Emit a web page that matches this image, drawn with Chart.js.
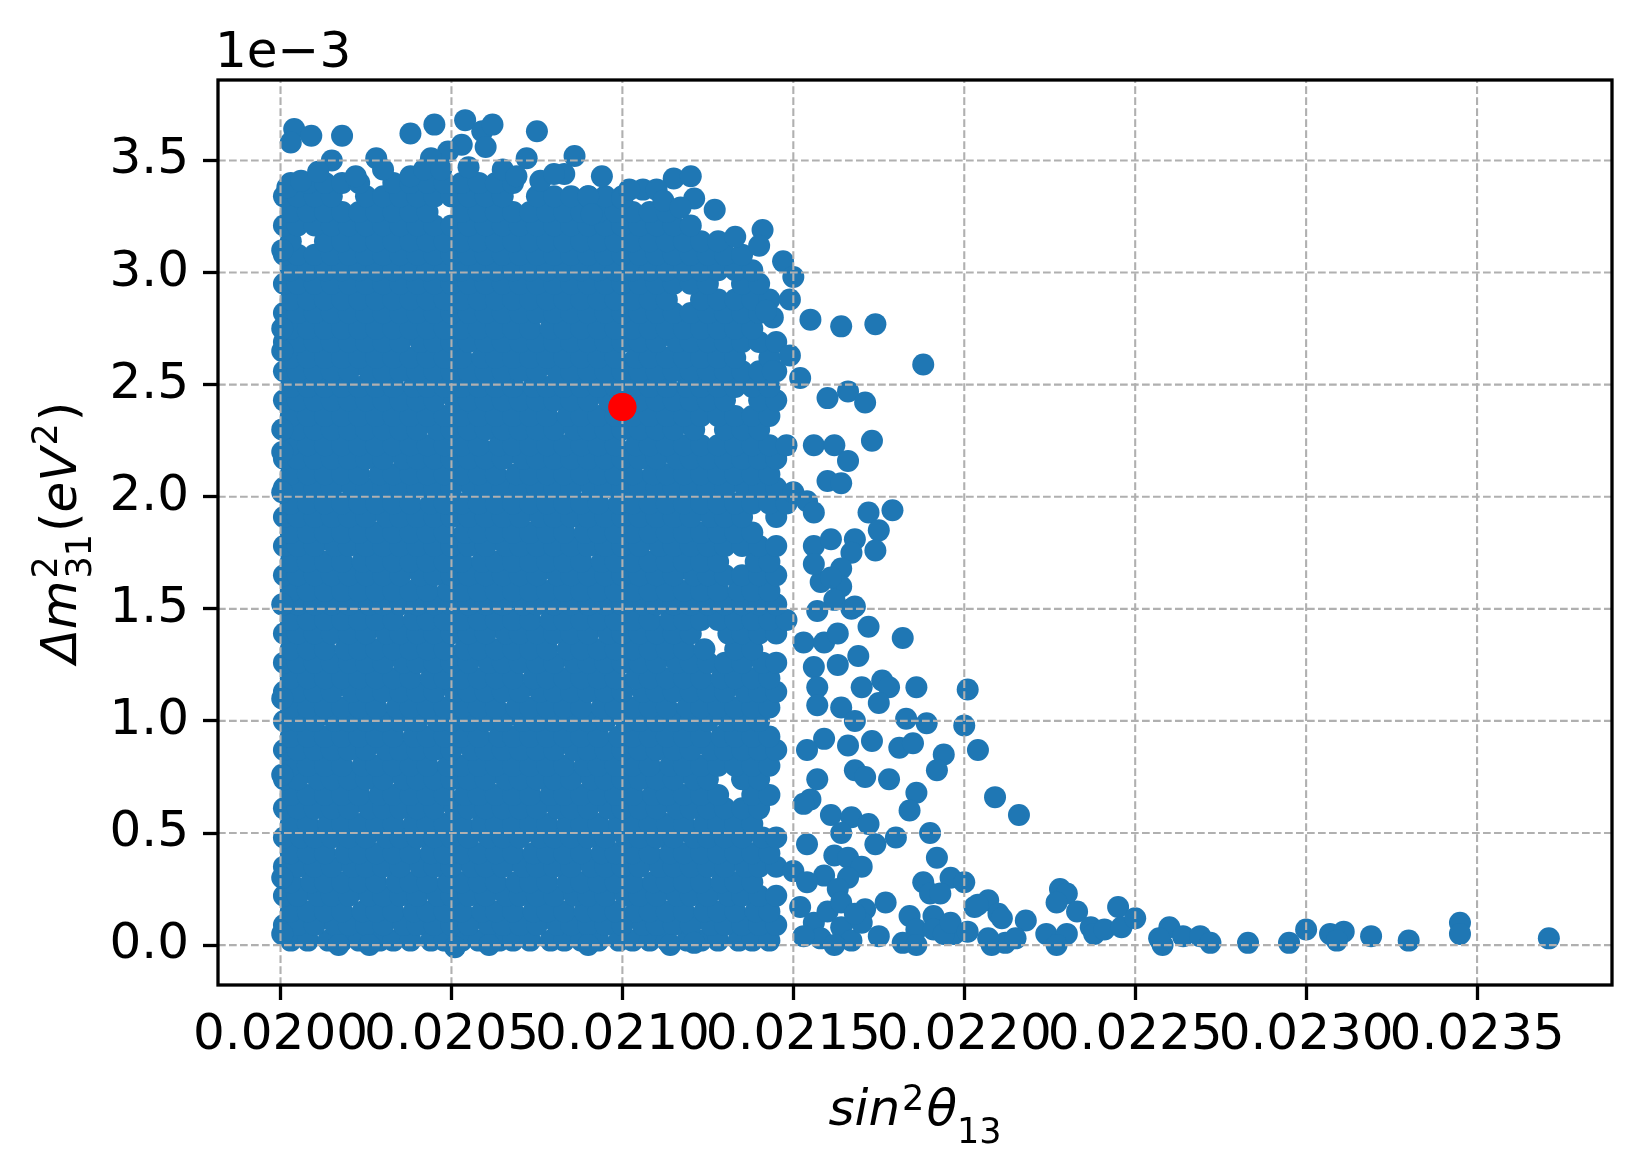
<!DOCTYPE html>
<html><head><meta charset="utf-8">
<script src="https://cdn.jsdelivr.net/npm/chart.js@4.4.1/dist/chart.umd.min.js"></script>
<style>html,body{margin:0;padding:0;background:#fff}canvas{display:block}</style>
</head><body>
<canvas id="c" width="1643" height="1167"></canvas>
<script>
// x value = X_BASE + u * X_UNIT  (u), y in units of 1e-3 eV^2
const X_BASE = 0.0200, X_UNIT = 1e-5;
const xTicks = [0.0200, 0.0205, 0.0210, 0.0215, 0.0220, 0.0225, 0.0230, 0.0235];
const xTickLabels = ["0.0200","0.0205","0.0210","0.0215","0.0220","0.0225","0.0230","0.0235"];
const yTicks = [0.0, 0.5, 1.0, 1.5, 2.0, 2.5, 3.0, 3.5];
const yTickLabels = ["0.0","0.5","1.0","1.5","2.0","2.5","3.0","3.5"];
const X_MIN = 0.0198171, X_MAX = 0.0238947, Y_MIN = -0.178, Y_MAX = 3.859;

// dense core of the cloud: [y, [u, u, ...]]
const denseRows = [
[0.02,[3,8,14,18,23,29,33,38,44,48,53,58,64,68,73,79,83,88,93,99,103,108,113,119,123,128,134,138,143]],
[0.09,[1,5,10,16,20,25,30,36,40,45,50,55,61,65,70,75,81,85,90,95,100,106,110,115,120,126,130,135,140,145]],
[0.15,[3,8,13,18,24,28,33,39,43,48,53,59,63,68,74,78,83,89,93,98,104,108,113,118,124,128,133,139,143]],
[0.22,[1,5,11,15,20,26,30,35,40,46,50,55,60,66,70,75,80,86,90,95,101,105,110,116,120,125,131,135,140,145]],
[0.28,[3,9,13,18,23,28,34,38,43,49,53,58,63,69,73,78,84,88,93,98,103,109,113,118,123,129,133,138]],
[0.35,[1,5,10,15,21,25,30,35,41,45,50,56,60,65,71,75,80,85,91,95,100,105,111,115,120,125,130,136,140,145]],
[0.41,[3,8,13,19,23,28,33,38,44,48,53,58,63,68,74,78,83,88,94,98,103,108,114,118,123,128,133,138,143]],
[0.48,[1,6,10,15,20,25,31,35,40,45,50,55,61,65,70,76,80,85,90,95,101,105,110,115,121,125,130,135,141,145]],
[0.54,[3,8,14,18,23,28,33,39,43,48,53,59,63,68,73,78,84,88,93,99,103,108,113,118,124,128,133,138]],
[0.61,[1,5,10,15,20,26,30,35,40,45,51,55,60,65,70,75,81,85,90,96,100,105,110,116,120,125,130,135,140]],
[0.67,[3,8,13,18,23,29,33,38,43,48,54,58,63,68,73,79,83,88,93,98,103,109,113,118,123,128,138,143]],
[0.74,[1,5,11,15,20,25,30,36,40,45,50,55,60,66,70,75,80,85,91,95,100,105,110,115,121,125,135,140]],
[0.80,[3,8,13,18,24,28,33,38,43,49,53,58,63,68,73,78,83,89,93,98,103,108,114,118,123,128,133,138,143]],
[0.87,[1,5,10,15,20,25,31,35,40,45,50,56,60,65,70,75,80,86,90,95,100,105,110,115,120,126,130,135,140,145]],
[0.93,[3,8,13,18,23,28,33,39,43,48,53,58,64,68,73,78,83,88,93,99,103,108,113,118,123,129,133,138,143]],
[1.00,[1,5,10,16,20,25,30,35,40,46,50,55,60,65,71,75,80,85,90,95,101,105,110,115,120,125,131,135,140]],
[1.06,[3,8,13,18,23,28,34,38,43,48,53,58,63,69,73,78,83,88,94,98,103,108,113,119,123,128,133,138,143]],
[1.13,[1,5,10,15,21,25,30,35,40,45,51,55,60,65,70,76,80,85,90,95,100,106,110,115,120,125,130,136,140,145]],
[1.19,[3,8,13,18,23,28,33,38,44,48,53,58,63,68,74,78,83,88,93,98,104,108,113,118,123,129,133,138,143]],
[1.26,[1,5,10,15,20,25,30,36,40,45,50,55,61,65,70,75,80,86,90,95,100,105,110,116,120,125,130,135,141,145]],
[1.32,[3,8,13,19,23,28,33,38,43,48,54,58,63,68,73,78,84,88,93,98,103,108,113,118,124,133,138]],
[1.39,[1,5,10,15,20,25,31,35,40,45,50,55,60,66,70,75,80,85,90,96,100,105,110,115,120,131,135,140,145]],
[1.45,[3,8,13,18,23,28,33,39,43,48,53,58,63,68,73,79,83,88,93,98,103,108,114,118,123,128,133,138,143,148]],
[1.52,[1,5,10,15,20,26,30,35,40,45,50,55,60,65,71,75,80,85,90,95,100,106,110,115,120,125,130,135,140,145]],
[1.58,[3,8,13,18,23,28,33,38,43,49,53,58,63,68,73,78,83,88,93,98,103,108,113,118,123,128,134,138,143]],
[1.65,[1,5,10,15,20,25,30,35,41,45,50,55,60,65,70,75,81,85,90,95,100,105,110,115,121,125,130,135,140,145]],
[1.71,[3,8,13,18,24,28,33,38,43,48,53,59,63,68,73,78,83,88,94,98,103,108,113,118,123,128,139,143]],
[1.78,[1,5,10,16,20,25,30,35,40,45,50,55,60,66,70,75,80,85,90,95,100,105,111,115,120,125,130,135,140,145]],
[1.84,[3,8,13,18,23,28,33,38,43,48,54,58,63,68,73,78,83,89,93,98,103,108,113,118,123,128,133,138]],
[1.91,[1,5,10,15,20,25,31,35,40,45,50,55,60,65,70,76,80,85,90,95,100,105,110,115,120,126,130,135,145]],
[1.97,[3,8,13,18,23,28,33,38,44,48,53,58,63,68,73,78,83,88,93,99,103,108,113,118,123,128,133,138,143,148]],
[2.04,[1,5,10,15,21,25,30,35,40,45,50,56,60,65,70,75,80,85,91,95,100,105,110,115,120,125,130,136,140,145]],
[2.10,[3,8,13,18,23,29,33,38,43,48,53,58,63,69,73,78,83,88,93,98,103,109,113,118,123,128,133,138,143]],
[2.17,[1,5,10,15,20,25,30,36,40,45,50,55,60,65,71,75,80,85,90,95,100,105,110,116,120,125,130,135,140,145]],
[2.23,[3,8,13,18,23,28,33,38,43,48,53,58,64,68,73,78,83,88,93,98,104,108,113,118,123,128,133,138,143,148]],
[2.30,[1,5,10,15,20,25,30,35,40,46,50,55,60,65,70,75,80,86,90,95,100,105,110,115,121,130,135,140]],
[2.36,[3,8,13,18,23,28,33,38,43,48,53,58,63,68,73,78,84,88,93,98,103,108,113,118,123,128,133,138,143]],
[2.43,[1,5,10,15,20,25,30,35,40,45,51,55,60,65,70,75,80,85,90,96,100,105,110,115,120,125,130,140,145]],
[2.49,[3,8,13,18,23,28,33,39,43,48,53,58,63,68,74,78,83,88,93,98,103,108,113,119,123,128,133,138,143]],
[2.56,[1,5,10,15,20,26,30,35,40,45,50,55,60,65,70,75,81,85,90,95,100,105,110,115,120,125,130,135,140,145]],
[2.62,[3,8,13,18,23,28,33,38,43,48,53,59,63,68,73,78,83,88,93,98,104,108,113,118,123,128,133,143]],
[2.69,[1,5,10,15,20,25,30,35,41,45,50,55,60,65,70,75,80,85,90,95,100,105,110,116,120,125,130,135,140,145]],
[2.75,[3,8,13,18,23,28,33,38,43,48,53,58,63,68,73,79,83,88,93,98,103,108,113,118,123,128,133,138]],
[2.82,[1,5,10,15,20,25,30,35,40,45,50,55,60,65,70,75,80,85,90,95,100,105,110,115,120,125,130,135,140]],
[2.88,[3,8,13,18,23,28,33,38,43,48,53,58,63,68,73,78,83,88,93,98,103,108,113,123,128,133,138,143]],
[2.95,[1,5,10,15,20,25,30,35,40,45,50,55,60,65,70,75,80,85,90,95,100,105,110,115,120,125,135,140]],
[3.01,[3,8,13,18,23,28,33,38,43,48,53,58,63,68,73,78,83,88,93,98,103,108,113,118,123,128,133,138]],
[3.08,[1,5,10,15,20,25,30,35,40,45,50,55,60,65,70,75,80,85,90,95,100,105,110,115,120,125,130,135]],
[3.14,[3,13,18,23,28,33,38,43,48,53,58,63,68,73,78,83,88,93,98,103,108,113,118,123,128]],
[3.21,[1,5,10,15,20,25,30,35,40,45,50,55,60,65,70,75,80,85,90,95,100,105,110,115,120]],
[3.27,[3,8,13,18,23,28,33,38,43,53,58,63,68,73,78,83,88,93,98,103,108,113]],
[3.34,[1,5,10,15,25,30,35,40,45,50,55,60,65,75,80,85,90,95,100]],
[3.40,[3,8,13,18,23,33,38,43,48,53,58,63,68]]
];

// scattered points around the core: [u, y]
const sparsePoints = [
[4,3.64],[3,3.58],[9,3.61],[18,3.61],[38,3.62],[45,3.66],[54,3.68],[59,3.63],[62,3.66],[75,3.63],
[53,3.57],[60,3.56],[49,3.54],[44,3.51],[28,3.51],[15,3.5],[72,3.51],[86,3.52],[55,3.47],[94,3.43],
[115,3.42],[120,3.43],[121,3.33],[127,3.28],[65,3.46],[69,3.43],[83,3.44],[106,3.37],[110,3.37],[100,3.33],
[133,3.16],[141,3.19],[140,3.12],[147,3.05],[150,2.98],[155,2.79],[164,2.76],[174,2.77],
[2,3.38],[6,3.41],[11,3.45],[22,3.43],[30,3.46],[38,3.43],[42,3.46],[47,3.46],[76,3.41],[90,3.34],
[102,3.37],[112,3.32],[117,3.29],[91,3.26],[80,3.44],
[149,2.88],[144,2.8],[142,2.83],[149,2.63],[188,2.59],[152,2.53],[144,2.56],[160,2.44],[166,2.47],[171,2.42],
[173,2.25],[156,2.23],[162,2.23],[166,2.16],[160,2.07],[164,2.06],[150,2.02],[154,1.98],[156,1.93],[172,1.93],
[179,1.94],[175,1.85],[174,1.76],[156,1.78],[161,1.81],[168,1.81],[167,1.75],[164,1.68],[164,1.6],[158,1.62],
[162,1.54],[157,1.49],[167,1.5],[172,1.42],[182,1.37],[156,1.24],[163,1.25],[169,1.29],[157,1.15],[157,1.07],
[164,1.06],[168,1.0],[170,1.15],[176,1.18],[178,1.15],[175,1.08],[186,1.15],[201,1.14],[183,1.01],[189,0.99],
[200,0.98],[204,0.87],[159,0.92],[166,0.89],[173,0.91],[181,0.88],[185,0.9],[168,0.78],[171,0.75],[178,0.74],
[194,0.85],[192,0.78],[186,0.68],[184,0.6],[209,0.66],[216,0.58],[161,0.58],[155,0.65],[167,0.57],[172,0.54],
[164,0.5],[174,0.45],[180,0.48],[190,0.5],[192,0.39],[162,0.4],[166,0.39],[170,0.35],[166,0.3],[159,0.31],
[163,0.25],[188,0.28],[190,0.23],[196,0.3],[200,0.28],[193,0.23],[177,0.19],[171,0.16],[175,0.04],[184,0.13],
[186,0.07],[182,0.01],[191,0.13],[203,0.17],[207,0.2],[210,0.14],[197,0.05],[208,0.0],[212,0.01],[218,0.11],
[224,0.05],[230,0.05],[227,0.0],[153,1.35],[159,1.35],[163,1.39],[156,1.7],[161,1.64],[168,1.51],[154,0.87],
[157,0.74],[153,0.63],[154,0.45],[150,0.33],[154,0.28],[152,0.17],[156,0.1],[160,0.15],[158,0.03],[164,0.08],
[167,0.02],[170,0.1],[153,0.04],[162,0.0],[164,0.19],[168,0.14],[191,0.07],[186,0.0],[194,0.05],[196,0.1],
[204,0.18],[201,0.06],[207,0.03],[211,0.12],[215,0.03],
[228,0.25],[230,0.23],[227,0.19],[233,0.15],[237,0.08],[238,0.05],[241,0.07],[245,0.17],[246,0.08],[250,0.12],
[258,0.0],[260,0.08],[264,0.04],[257,0.03],[269,0.04],[272,0.01],[283,0.01],[295,0.01],[300,0.07],[307,0.05],
[311,0.06],[309,0.02],[319,0.04],[330,0.02],[345,0.1],[345,0.05],[371,0.03],
[0.5,3.1],[0.5,2.75],[0.5,2.65],[0.5,2.3],[0.5,2.2],[0.5,2.02],[0.5,1.52],[0.5,1.1],[0.5,0.76],[0.5,0.3],[0.5,0.05],
[17,0.0],[26,0.0],[51,-0.01],[61,0.0],[90,0.0],[114,0.0],[121,0.01]
];

// highlighted point (red): [x, y(1e-3)]
const bestFit = [0.0210, 2.40];

const toX = u => X_BASE + u * X_UNIT;
const bluePts = [];
denseRows.forEach(([y, us]) => us.forEach(u => bluePts.push({x: toX(u), y})));
sparsePoints.forEach(([u, y]) => bluePts.push({x: toX(u), y}));

const FONT = '"DejaVu Sans", "Liberation Sans", sans-serif';
function fnt(it, size) { return (it ? 'italic ' : '') + size + 'px ' + FONT; }

function mathLayout(ctx, items, size) {
  const small = size * 0.7;
  let w = 0;
  const out = items.map(o => {
    let iw;
    if (o.stack) {
      ctx.font = fnt(false, small);
      iw = Math.max(ctx.measureText(o.stack[0]).width, ctx.measureText(o.stack[1]).width);
    } else {
      ctx.font = fnt(o.it, (o.sup || o.sub) ? small : size);
      iw = ctx.measureText(o.t).width;
    }
    const r = {o, x: w, w: iw};
    w += iw + (o.gap || 0);
    return r;
  });
  return {out, w};
}
function drawMath(ctx, items, cx, by, size, supUp, subDn) {
  const small = size * 0.7;
  const L = mathLayout(ctx, items, size);
  const x0 = cx - L.w / 2;
  ctx.fillStyle = '#000';
  ctx.textBaseline = 'alphabetic';
  ctx.textAlign = 'left';
  L.out.forEach(r => {
    const o = r.o;
    if (o.stack) {
      ctx.font = fnt(false, small);
      ctx.fillText(o.stack[0], x0 + r.x, by - supUp * size);
      ctx.fillText(o.stack[1], x0 + r.x, by + subDn * size);
    } else if (o.sup) {
      ctx.font = fnt(false, small);
      ctx.fillText(o.t, x0 + r.x, by - supUp * size);
    } else if (o.sub) {
      ctx.font = fnt(false, small);
      ctx.fillText(o.t, x0 + r.x, by + subDn * size);
    } else {
      ctx.font = fnt(o.it, size);
      ctx.fillText(o.t, x0 + r.x, by);
    }
  });
}

const xTitle = [{t:'sin', it:true, gap:2}, {t:'2', sup:true, gap:2}, {t:'θ', it:true}, {t:'13', sub:true}];
const yTitle = [{t:'Δ', it:true}, {t:'m', it:true, gap:2}, {stack:['2','31'], gap:2}, {t:'(', it:false}, {t:'eV', it:true, gap:2}, {t:'2', sup:true, gap:2}, {t:')', it:false}];

const decorPlugin = {
  id: 'decor',
  afterDatasetsDraw(chart) {
    const {ctx, chartArea: a, scales} = chart;
    // dashed grid above the blue cloud
    ctx.save();
    ctx.globalCompositeOperation = 'source-over';
    ctx.globalAlpha = 1;
    ctx.strokeStyle = '#b0b0b0';
    ctx.lineWidth = 2.1;
    ctx.setLineDash([7.7, 3.3]);
    xTicks.forEach(v => {
      const px = scales.x.getPixelForValue(v);
      ctx.beginPath(); ctx.moveTo(px, a.bottom); ctx.lineTo(px, a.top); ctx.stroke();
    });
    yTicks.forEach(v => {
      const py = scales.y.getPixelForValue(v);
      ctx.beginPath(); ctx.moveTo(a.left, py); ctx.lineTo(a.right, py); ctx.stroke();
    });
    ctx.restore();
    // red best-fit point again on top of the grid (drawn by the library's own controller)
    ctx.save();
    chart.getDatasetMeta(0).controller.draw();
    ctx.restore();
  },
  afterDraw(chart) {
    const {ctx, chartArea: a} = chart;
    ctx.save();
    ctx.strokeStyle = '#000';
    ctx.lineWidth = 3.3;
    ctx.setLineDash([]);
    ctx.strokeRect(a.left, a.top, a.right - a.left, a.bottom - a.top);
    ctx.fillStyle = '#000';
    ctx.font = '50px ' + FONT;
    ctx.textAlign = 'left';
    ctx.textBaseline = 'alphabetic';
    ctx.fillText('1e\u22123', a.left - 3, 67);
    drawMath(ctx, xTitle, (a.left + a.right) / 2, 1125, 50, 0.3, 0.36);
    ctx.save();
    ctx.translate(76, (a.top + a.bottom) / 2);
    ctx.rotate(-Math.PI / 2);
    drawMath(ctx, yTitle, 0, 0, 50, 0.38, 0.3);
    ctx.restore();
    ctx.restore();
  }
};

new Chart(document.getElementById('c'), {
  type: 'scatter',
  data: {
    datasets: [
      {label: 'best fit', data: [{x: bestFit[0], y: bestFit[1]}], backgroundColor: '#ff0000', pointRadius: 14, borderWidth: 0, order: 1},
      {label: 'points', data: bluePts, backgroundColor: '#1f77b4', pointRadius: 11, borderWidth: 0, order: 2}
    ]
  },
  options: {
    responsive: false, animation: false, devicePixelRatio: 1, events: [],
    layout: {padding: {top: 80, right: 31, left: 0, bottom: 0}},
    plugins: {legend: {display: false}, tooltip: {enabled: false}},
    scales: {
      x: {
        type: 'linear', min: X_MIN, max: X_MAX,
        afterBuildTicks: s => { s.ticks = xTicks.map(v => ({value: v})); },
        afterFit: s => { s.height = 182; },
        ticks: {autoSkip: false, maxRotation: 0, minRotation: 0, padding: 6, color: '#000',
                font: {size: 50, family: FONT}, callback: (v, i) => xTickLabels[i]},
        grid: {drawOnChartArea: false, drawTicks: true, tickLength: 15, tickWidth: 3.3, tickColor: '#000'},
        border: {display: false}
      },
      y: {
        type: 'linear', min: Y_MIN, max: Y_MAX,
        afterBuildTicks: s => { s.ticks = yTicks.map(v => ({value: v})); },
        afterFit: s => { s.width = 218; },
        ticks: {autoSkip: false, padding: 14, color: '#000',
                font: {size: 50, family: FONT}, callback: (v, i) => yTickLabels[i]},
        grid: {drawOnChartArea: false, drawTicks: true, tickLength: 15, tickWidth: 3.3, tickColor: '#000'},
        border: {display: false}
      }
    }
  },
  plugins: [decorPlugin]
});
</script>
</body></html>
